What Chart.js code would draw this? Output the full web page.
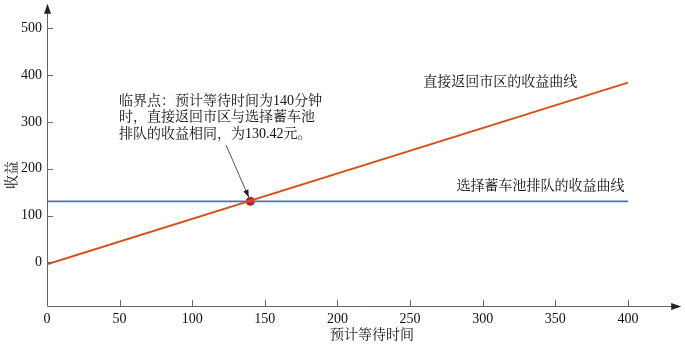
<!DOCTYPE html>
<html>
<head>
<meta charset="utf-8">
<script src="https://cdn.jsdelivr.net/npm/chart.js@4.4.0/dist/chart.umd.min.js"></script>
<style>
  html, body { margin: 0; padding: 0; background: #fff; }
  #wrap { width: 685px; height: 345px; position: relative; }
</style>
</head>
<body>
<div id="wrap"><canvas id="c"></canvas></div>
<script>
// 数据
const waitTimes = [0, 400];
const directReturn = [-4, 384];     // 直接返回市区
const queueRevenue = [130.42, 130.42]; // 选择蓄车池排队
const criticalPoint = { x: 140, y: 130.42 };
const xTicks = [0, 50, 100, 150, 200, 250, 300, 350, 400];
const yTicks = [0, 100, 200, 300, 400, 500];

const FONT = "'Liberation Serif', 'Noto Serif CJK SC', 'Noto Sans CJK SC', serif";

const axisPlugin = {
  id: 'axisPlugin',
  afterDraw(chart) {
    const { ctx, chartArea: a, scales: { x, y } } = chart;
    ctx.save();
    ctx.strokeStyle = '#666';
    ctx.fillStyle = '#111';
    ctx.lineWidth = 1;
    // 坐标轴
    ctx.beginPath();
    ctx.moveTo(a.left + 0.5, a.bottom + 0.5);
    ctx.lineTo(a.left + 0.5, a.top + 2);
    ctx.moveTo(a.left + 0.5, a.bottom + 0.5);
    ctx.lineTo(a.right - 2, a.bottom + 0.5);
    // 刻度（朝内）
    yTicks.forEach(v => {
      const py = Math.round(y.getPixelForValue(v)) + 0.5;
      ctx.moveTo(a.left, py); ctx.lineTo(a.left + 6, py);
    });
    xTicks.forEach(v => {
      const px = Math.round(x.getPixelForValue(v)) + 0.5;
      ctx.moveTo(px, a.bottom); ctx.lineTo(px, a.bottom - 6);
    });
    ctx.stroke();
    // 箭头
    ctx.fillStyle = '#222';
    ctx.beginPath();
    ctx.moveTo(a.left + 0.5, a.top - 1);
    ctx.lineTo(a.left - 3, a.top + 9);
    ctx.lineTo(a.left + 4, a.top + 9);
    ctx.closePath();
    ctx.fill();
    ctx.beginPath();
    ctx.moveTo(a.right + 1, a.bottom + 0.5);
    ctx.lineTo(a.right - 9, a.bottom - 3);
    ctx.lineTo(a.right - 9, a.bottom + 4);
    ctx.closePath();
    ctx.fill();

    // 轴标题
    ctx.fillStyle = '#111';
    ctx.font = '14px ' + FONT;
    ctx.textAlign = 'center';
    ctx.textBaseline = 'middle';
    ctx.fillText('预计等待时间', 372, 335);
    ctx.save();
    ctx.translate(12, 175);
    ctx.rotate(-Math.PI / 2);
    ctx.fillText('收益', 0, 0);
    ctx.restore();

    // 曲线标注
    ctx.textAlign = 'left';
    ctx.fillText('直接返回市区的收益曲线', x.getPixelForValue(259), y.getPixelForValue(385));
    ctx.fillText('选择蓄车池排队的收益曲线', x.getPixelForValue(282), y.getPixelForValue(163));
    const lines = ['临界点：预计等待时间为140分钟', '时，直接返回市区与选择蓄车池', '排队的收益相同，为130.42元。'];
    lines.forEach((t, i) => ctx.fillText(t, 119, 101 + i * 16.5));

    // 指示箭头
    const sx = 226, sy = 145;
    const ex = x.getPixelForValue(criticalPoint.x) - 1.5;
    const ey = y.getPixelForValue(criticalPoint.y) - 4;
    ctx.strokeStyle = '#555';
    ctx.beginPath();
    ctx.moveTo(sx, sy); ctx.lineTo(ex, ey);
    ctx.stroke();
    const ang = Math.atan2(ey - sy, ex - sx);
    ctx.fillStyle = '#222';
    ctx.beginPath();
    ctx.moveTo(ex, ey);
    ctx.lineTo(ex - 8 * Math.cos(ang - 0.35), ey - 8 * Math.sin(ang - 0.35));
    ctx.lineTo(ex - 8 * Math.cos(ang + 0.35), ey - 8 * Math.sin(ang + 0.35));
    ctx.closePath();
    ctx.fill();
    ctx.restore();
  }
};

new Chart(document.getElementById('c'), {
  type: 'line',
  data: {
    datasets: [
      {
        label: '直接返回市区的收益曲线',
        data: waitTimes.map((t, i) => ({ x: t, y: directReturn[i] })),
        borderColor: '#d4501a', borderWidth: 1.8, pointRadius: 0, tension: 0
      },
      {
        label: '选择蓄车池排队的收益曲线',
        data: waitTimes.map((t, i) => ({ x: t, y: queueRevenue[i] })),
        borderColor: '#3b7ab3', borderWidth: 1.8, pointRadius: 0, tension: 0
      },
      {
        label: '临界点',
        data: [criticalPoint],
        showLine: false, pointRadius: 4,
        pointBackgroundColor: '#e8101a', pointBorderColor: '#8a1010', pointBorderWidth: 0.8
      }
    ]
  },
  options: {
    responsive: true, maintainAspectRatio: false, animation: false,
    layout: { padding: { top: 3, right: 2, left: 0, bottom: 0 } },
    plugins: { legend: { display: false }, tooltip: { enabled: false } },
    scales: {
      x: {
        type: 'linear', min: 0, max: 436,
        afterBuildTicks: s => { s.ticks = xTicks.map(v => ({ value: v })); },
        afterFit: s => { s.height = 39; s.paddingLeft = 0; s.paddingRight = 0; },
        grid: { display: false, drawTicks: false },
        border: { display: false },
        ticks: { color: '#111', font: { family: FONT, size: 14 }, padding: 5, maxRotation: 0 }
      },
      y: {
        type: 'linear', min: -93, max: 550,
        afterBuildTicks: s => { s.ticks = yTicks.map(v => ({ value: v })); },
        afterFit: s => { s.width = 47; s.paddingTop = 0; s.paddingBottom = 0; },
        grid: { display: false, drawTicks: false },
        border: { display: false },
        ticks: { color: '#111', font: { family: FONT, size: 14 }, padding: 5 }
      }
    }
  },
  plugins: [axisPlugin]
});
</script>
</body>
</html>
